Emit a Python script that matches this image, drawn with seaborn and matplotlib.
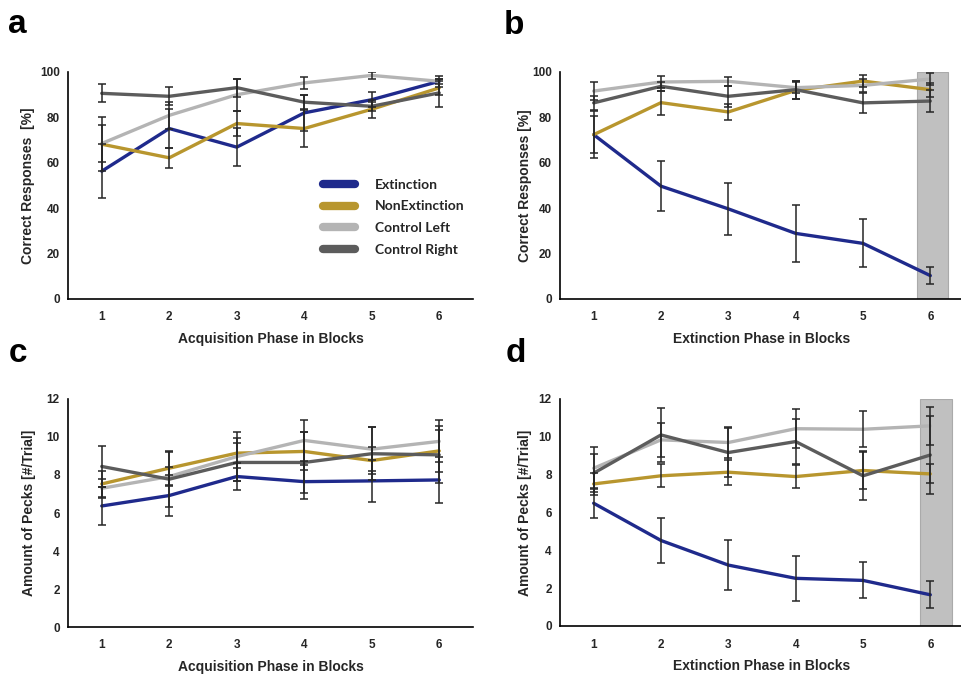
import numpy as np
import pandas as pd
import matplotlib
matplotlib.use("Agg")
import matplotlib.pyplot as plt
import seaborn as sns
from matplotlib.ticker import MultipleLocator
from matplotlib.lines import Line2D

sns.set_style("white")
plt.rcParams['font.family'] = ['Liberation Sans', 'DejaVu Sans']

blocks = [1, 2, 3, 4, 5, 6]
groups = ["Extinction", "NonExtinction", "Control Left", "Control Right"]
colors = ["#1f2a8c", "#b8962e", "#b4b4b4", "#5c5c5c"]

# Panel a: correct responses, acquisition
ext_a = [56.3, 75.1, 66.9, 82.0, 87.8, 95.9]
non_a = [68.2, 62.2, 77.3, 75.1, 83.6, 93.0]
cl_a = [68.5, 80.9, 90.0, 95.2, 98.5, 95.9]
cr_a = [90.6, 89.3, 93.1, 86.7, 84.9, 90.8]
ext_a_err = [12.0, 8.5, 8.3, 8.0, 3.3, 2.5]
non_a_err = [12.0, 4.4, 5.5, 8.0, 4.0, 3.0]
cl_a_err = [8.0, 6.0, 7.0, 2.5, 1.5, 1.0]
cr_a_err = [4.0, 4.0, 4.0, 3.0, 2.0, 6.0]

# Panel b: correct responses, extinction
ext_b = [72.4, 49.7, 39.7, 28.9, 24.5, 10.3]
non_b = [72.4, 86.5, 82.4, 91.9, 96.0, 92.2]
cl_b = [91.6, 95.6, 95.9, 93.1, 94.1, 96.9]
cr_b = [86.4, 93.7, 89.3, 92.2, 86.4, 87.2]
ext_b_err = [10.5, 11.0, 11.5, 12.4, 10.6, 3.8]
non_b_err = [8.0, 5.3, 3.7, 4.0, 2.5, 3.0]
cl_b_err = [4.0, 2.5, 2.0, 2.5, 3.0, 2.5]
cr_b_err = [3.0, 2.0, 4.5, 4.0, 4.5, 5.0]

# Panel c: pecks, acquisition
ext_c = [6.37, 6.92, 7.92, 7.65, 7.69, 7.74]
non_c = [7.53, 8.36, 9.15, 9.24, 8.76, 9.27]
cl_c = [7.30, 7.92, 8.97, 9.82, 9.36, 9.77]
cr_c = [8.45, 7.78, 8.66, 8.66, 9.12, 9.06]
ext_c_err = [1.0, 1.1, 0.7, 0.9, 1.1, 1.2]
non_c_err = [0.7, 0.9, 0.8, 1.0, 0.7, 1.1]
cl_c_err = [0.5, 0.5, 1.3, 1.1, 1.15, 1.1]
cr_c_err = [1.1, 1.45, 1.0, 1.6, 1.4, 1.5]

# Panel d: pecks, extinction
ext_d = [6.49, 4.52, 3.22, 2.52, 2.41, 1.65]
non_d = [7.51, 7.94, 8.13, 7.90, 8.22, 8.04]
cl_d = [8.34, 9.84, 9.70, 10.43, 10.40, 10.58]
cr_d = [8.08, 10.10, 9.17, 9.75, 7.94, 9.04]
ext_d_err = [0.8, 1.17, 1.3, 1.2, 0.95, 0.72]
non_d_err = [0.6, 0.6, 0.65, 0.6, 1.0, 0.5]
cl_d_err = [1.1, 0.9, 0.8, 1.04, 0.95, 1.0]
cr_d_err = [1.0, 1.44, 1.3, 1.2, 1.3, 2.05]

panels = [
    ("a", [ext_a, non_a, cl_a, cr_a], [ext_a_err, non_a_err, cl_a_err, cr_a_err],
     "Acquisition Phase in Blocks", "Correct Responses  [%]", 100, 20, 10, False),
    ("b", [ext_b, non_b, cl_b, cr_b], [ext_b_err, non_b_err, cl_b_err, cr_b_err],
     "Extinction Phase in Blocks", "Correct Responses [%]", 100, 20, 10, True),
    ("c", [ext_c, non_c, cl_c, cr_c], [ext_c_err, non_c_err, cl_c_err, cr_c_err],
     "Acquisition Phase in Blocks", "Amount of Pecks [#/Trial]", 12, 2, 2, False),
    ("d", [ext_d, non_d, cl_d, cr_d], [ext_d_err, non_d_err, cl_d_err, cr_d_err],
     "Extinction Phase in Blocks", "Amount of Pecks [#/Trial]", 12, 2, 2, True),
]

positions = {
    "a": [68 / 962, 1 - 299 / 674, 405 / 962, 227 / 674],
    "b": [560 / 962, 1 - 299 / 674, 404 / 962, 227 / 674],
    "c": [68 / 962, 1 - 627 / 674, 405 / 962, 228 / 674],
    "d": [560 / 962, 1 - 626 / 674, 404 / 962, 227 / 674],
}
ylabel_x = {"a": -0.082, "b": -0.070, "c": -0.080, "d": -0.070}
spans = {"b": (5.80, 6.26), "d": (5.84, 6.32)}
letter_pos = {"a": (8, 33), "b": (504, 34), "c": (9, 362), "d": (506, 362)}

fig = plt.figure(figsize=(9.62, 6.74), dpi=100)
palette = dict(zip(groups, colors))

for key, vals, errs, xlabel, ylabel, ymax, ymaj, ymin_step, shade in panels:
    ax = fig.add_axes(positions[key])
    rows = []
    for g, v in zip(groups, vals):
        for b, y in zip(blocks, v):
            rows.append({"Block": b, "Value": y, "Group": g})
    df = pd.DataFrame(rows)
    if shade:
        ax.axvspan(spans[key][0], spans[key][1], ymin=0, ymax=1,
                   color="#c0c0c0", ec="#aaaaaa", lw=0.8, zorder=0)
    sns.lineplot(data=df, x="Block", y="Value", hue="Group", hue_order=groups,
                 palette=palette, linewidth=2.4, ax=ax, legend=False,
                 errorbar=None, sort=False, zorder=2)
    for v, e in zip(vals, errs):
        ax.errorbar(blocks, v, yerr=e, fmt="none", ecolor="#262626",
                    elinewidth=1.1, capsize=2.6, capthick=1.1, zorder=3)
    ax.set_xlim(0.5, 6.5)
    ax.set_ylim(0, ymax)
    ax.set_xticks(blocks)
    ax.set_xticks(np.arange(0.5, 7.0, 1.0), minor=True)
    ax.tick_params(axis="x", which="major", length=0, pad=9, labelsize=8.5)
    ax.tick_params(axis="x", which="minor", length=4, width=1, direction="out",
                   color="black")
    ax.yaxis.set_major_locator(MultipleLocator(ymaj))
    ax.yaxis.set_minor_locator(MultipleLocator(ymin_step))
    ax.tick_params(axis="y", which="both", length=4, width=1, direction="out",
                   color="black", labelsize=8.5, pad=2)
    for lab in ax.get_xticklabels() + ax.get_yticklabels():
        lab.set_fontweight("bold")
    ax.set_xlabel(xlabel, fontsize=10, fontweight="bold", labelpad=6)
    ax.set_ylabel(ylabel, fontsize=10, fontweight="bold")
    ax.yaxis.set_label_coords(ylabel_x[key], 0.5)
    for s in ["top", "right"]:
        ax.spines[s].set_visible(False)
    for s in ["left", "bottom"]:
        ax.spines[s].set_color("black")
        ax.spines[s].set_linewidth(1.2)
    ax.set_facecolor("white")
    lx, ly = letter_pos[key]
    fig.text(lx / 962, 1 - ly / 674, key, fontsize=24, fontweight="bold",
             color="black", ha="left", va="baseline")
    if key == "a":
        handles = [Line2D([0], [0], color=c, lw=6, solid_capstyle="round")
                   for c in colors]
        ax.legend(handles, groups, loc="upper left",
                  bbox_to_anchor=(0.6, 0.585), frameon=False,
                  handlelength=2.3, handletextpad=1.4, labelspacing=0.7,
                  prop={"family": ["Lato", "DejaVu Sans"], "weight": "bold",
                        "size": 10})

fig.savefig("out.png", dpi=100, facecolor="white")
